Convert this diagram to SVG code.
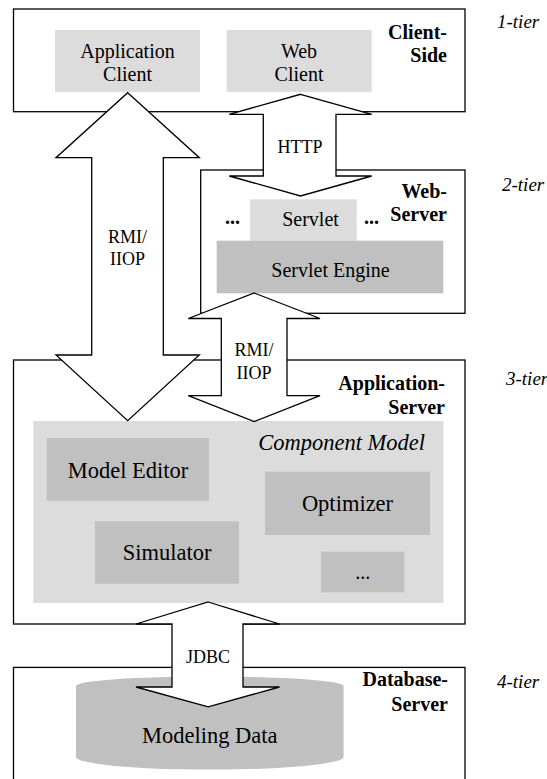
<svg xmlns="http://www.w3.org/2000/svg" width="547" height="779" viewBox="0 0 547 779">
<style>
.tier{fill:#fff;stroke:#000;stroke-width:1.3}
.lg{fill:#dcdcdc}
.dg{fill:#c0c0c0}
.t{font-family:"Liberation Serif","Times New Roman",serif;fill:#000}
.n{font-size:20px;text-anchor:middle}
.b{font-size:20px;font-weight:bold;text-anchor:end}
.it{font-size:19px;font-style:italic}
.big{font-size:22.5px;text-anchor:middle}
.lab{font-size:18px;text-anchor:middle}
.arrow{fill:#fff;stroke:#000;stroke-width:1.3;stroke-linejoin:miter}
</style>
<rect width="547" height="779" fill="#fff"/>
<g id="client-side">
<rect class="tier" x="13.5" y="9" width="451.5" height="102.7"/>
<text class="t b" x="447" y="39">Client-</text>
<text class="t b" x="447" y="62">Side</text>
<text class="t it" x="497" y="28">1-tier</text>
</g>
<g id="application-client">
<rect class="lg" x="55" y="30" width="145" height="62"/>
<text class="t n" x="127.5" y="58">Application</text>
<text class="t n" x="127.5" y="81">Client</text>
</g>
<g id="web-client">
<rect class="lg" x="226.7" y="30" width="145" height="62"/>
<text class="t n" x="299" y="58">Web</text>
<text class="t n" x="299" y="81">Client</text>
</g>
<g id="web-server">
<rect class="tier" x="200.7" y="170" width="264.3" height="143.3"/>
<text class="t b" x="447" y="198">Web-</text>
<text class="t b" x="447" y="221">Server</text>
<text class="t it" x="502" y="191">2-tier</text>
</g>
<g id="servlet">
<rect class="lg" x="250" y="199.3" width="106.7" height="41.4"/>
<text class="t n" x="310.5" y="226">Servlet</text>
<text class="t b" x="240" y="224">...</text>
<text class="t b" x="379" y="224">...</text>
</g>
<g id="servlet-engine">
<rect class="dg" x="216.7" y="240.7" width="226.6" height="52.6"/>
<text class="t n" x="330.5" y="277">Servlet Engine</text>
</g>
<g id="application-server">
<rect class="tier" x="13.5" y="360" width="451.5" height="264"/>
<text class="t b" x="445" y="390">Application-</text>
<text class="t b" x="445" y="414">Server</text>
<text class="t it" x="506" y="385">3-tier</text>
</g>
<g id="component-model">
<rect class="lg" x="33.3" y="421" width="410" height="182"/>
<text class="t big" x="425" y="450" style="font-style:italic;text-anchor:end">Component Model</text>
</g>
<g id="model-editor">
<rect class="dg" x="46.7" y="438" width="162.3" height="62.7"/>
<text class="t big" x="128" y="478">Model Editor</text>
</g>
<g id="optimizer">
<rect class="dg" x="265" y="471.7" width="165" height="63.3"/>
<text class="t big" x="347.5" y="511">Optimizer</text>
</g>
<g id="simulator">
<rect class="dg" x="95" y="521.3" width="144" height="62.4"/>
<text class="t big" x="167" y="560">Simulator</text>
</g>
<g id="more-components">
<rect class="dg" x="321" y="551.7" width="83.3" height="40.6"/>
<text class="t n" x="362.7" y="579">...</text>
</g>
<g id="database-server">
<rect class="tier" x="13.5" y="667.4" width="451.5" height="130"/>
<text class="t b" x="448" y="686">Database-</text>
<text class="t b" x="448" y="711">Server</text>
<text class="t it" x="497" y="688">4-tier</text>
</g>
<g id="modeling-data">
<path class="dg" d="M76,686 A133.8,9.5 0 0 1 343.6,686 L343.6,757 A133.8,12.6 0 0 1 76,757 Z"/>
<text class="t big" x="209.8" y="743">Modeling Data</text>
</g>
<g id="connectors">
<polygon class="arrow" points="300.5,94.3 371.7,114.3 336,114.3 336,176 371.7,176 300.5,196 229.3,176 263.3,176 263.3,114.3 229.3,114.3"/>
<text class="t lab" x="300" y="153">HTTP</text>
<polygon class="arrow" points="127.7,92.7 199.3,157.7 163.3,157.7 163.3,355 199.3,355 127.7,420.7 56,355 91.7,355 91.7,157.7 56,157.7"/>
<text class="t lab" x="127.5" y="243">RMI/</text>
<text class="t lab" x="127.5" y="265">IIOP</text>
<polygon class="arrow" points="254.2,293 320,318.5 287,318.5 287,395.7 320,395.7 254.2,421.5 188.3,395.7 221.3,395.7 221.3,318.5 188.3,318.5"/>
<text class="t lab" x="254" y="356">RMI/</text>
<text class="t lab" x="254" y="379">IIOP</text>
<polygon class="arrow" points="208.2,602 279.5,624 243,624 243,687 279.5,687 208.2,706.8 136,687 172,687 172,624 136,624"/>
<text class="t lab" x="208" y="663">JDBC</text>
</g>
</svg>
